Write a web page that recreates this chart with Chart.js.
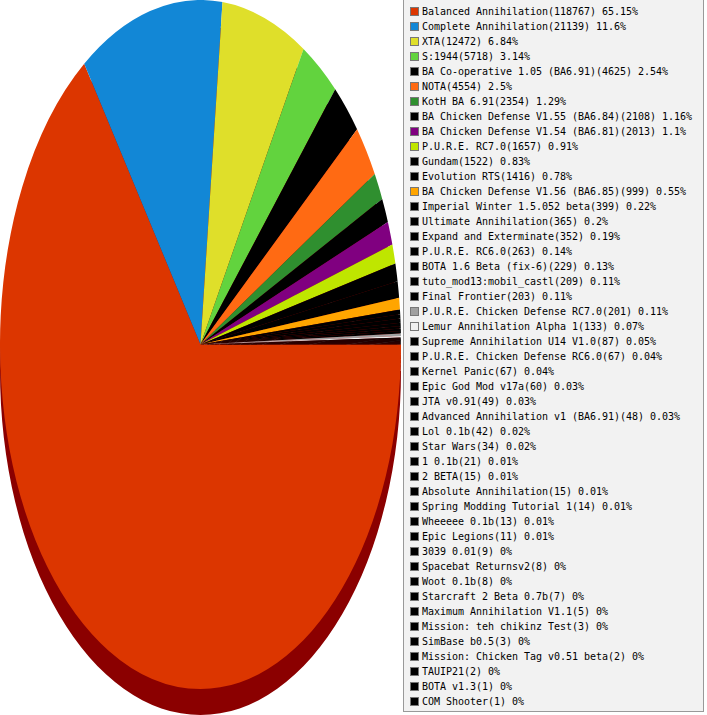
<!DOCTYPE html>
<html>
<head>
<meta charset="utf-8">
<script src="https://cdn.jsdelivr.net/npm/chart.js@4"></script>
<style>
  body { margin: 0; background: #fff; width: 707px; height: 715px; overflow: hidden; position: relative; }
  #pieBox { position: absolute; left: 0; top: 0; width: 401px; height: 715px; }
  #leyenda {
    position: absolute; left: 403px; top: -1px; width: 301px; height: 713px;
    border: 1px solid #999; background: #f2f2f2; box-sizing: border-box;
    font-family: "DejaVu Sans Mono", monospace; font-size: 10px; color: #000;
    padding-top: 4px; white-space: nowrap; overflow: hidden;
  }
  .fila { height: 15px; line-height: 15px; }
  .cuadro {
    display: inline-block; width: 7px; height: 7px; border: 1px solid #777;
    margin-left: 6px; margin-right: 3px; vertical-align: -1px; letter-spacing: 0;
  }
</style>
</head>
<body>
<div id="pieBox"><canvas id="tarta" width="401" height="715"></canvas></div>
<div id="leyenda"></div>
<script>
// datos
var nombres = [
  "Balanced Annihilation", "Complete Annihilation", "XTA", "S:1944",
  "BA Co-operative 1.05 (BA6.91)", "NOTA", "KotH BA 6.91",
  "BA Chicken Defense V1.55 (BA6.84)", "BA Chicken Defense V1.54 (BA6.81)",
  "P.U.R.E. RC7.0", "Gundam", "Evolution RTS", "BA Chicken Defense V1.56 (BA6.85)",
  "Imperial Winter 1.5.052 beta", "Ultimate Annihilation", "Expand and Exterminate",
  "P.U.R.E. RC6.0", "BOTA 1.6 Beta (fix-6)", "tuto_mod13:mobil_castl", "Final Frontier",
  "P.U.R.E. Chicken Defense RC7.0", "Lemur Annihilation Alpha 1",
  "Supreme Annihilation U14 V1.0", "P.U.R.E. Chicken Defense RC6.0", "Kernel Panic",
  "Epic God Mod v17a", "JTA v0.91", "Advanced Annihilation v1 (BA6.91)", "Lol 0.1b",
  "Star Wars", "1 0.1b", "2 BETA", "Absolute Annihilation", "Spring Modding Tutorial 1",
  "Wheeeee 0.1b", "Epic Legions", "3039 0.01", "Spacebat Returnsv2", "Woot 0.1b",
  "Starcraft 2 Beta 0.7b", "Maximum Annihilation V1.1", "Mission: teh chikinz Test",
  "SimBase b0.5", "Mission: Chicken Tag v0.51 beta", "TAUIP21", "BOTA v1.3", "COM Shooter"
];

var partidas = [
  118767, 21139, 12472, 5718, 4625, 4554, 2354, 2108, 2013, 1657, 1522, 1416, 999,
  399, 365, 352, 263, 229, 209, 203, 201, 133, 87, 67, 67, 60, 49, 48, 42, 34,
  21, 15, 15, 14, 13, 11, 9, 8, 8, 7, 5, 3, 3, 2, 2, 1, 1
];

var porcentajes = [
  "65.15", "11.6", "6.84", "3.14", "2.54", "2.5", "1.29", "1.16", "1.1", "0.91",
  "0.83", "0.78", "0.55", "0.22", "0.2", "0.19", "0.14", "0.13", "0.11", "0.11",
  "0.11", "0.07", "0.05", "0.04", "0.04", "0.03", "0.03", "0.03", "0.02", "0.02",
  "0.01", "0.01", "0.01", "0.01", "0.01", "0.01", "0", "0", "0", "0", "0", "0",
  "0", "0", "0", "0", "0"
];

var colores = [
  "#dc3600", "#1287d6", "#dfdf2a", "#62d33e", "#000000", "#ff6a13", "#2f8f2f",
  "#000000", "#800080", "#bfe600", "#000000", "#000000", "#ffa500",
  "#000000", "#000000", "#000000", "#000000", "#000000", "#000000", "#000000",
  "#a0a0a0", "#f0f0f0"
];
while (colores.length < nombres.length) colores.push("#000000");

var sombraColor = "#8b0000";
var profundidad = 26;
var anchoLetra = 6; // px por caracter en la imagen original

// leyenda en html
var ley = document.getElementById('leyenda');

// ajusta el espaciado para que cada letra mida lo mismo que en el original
var medidor = document.createElement('canvas').getContext('2d');
medidor.font = '10px "DejaVu Sans Mono", monospace';
var anchoReal = medidor.measureText('0123456789'.repeat(10)).width / 100;
ley.style.letterSpacing = (anchoLetra - anchoReal).toFixed(3) + 'px';

nombres.forEach(function (n, i) {
  var fila = document.createElement('div');
  fila.className = 'fila';
  var c = document.createElement('span');
  c.className = 'cuadro';
  c.style.background = colores[i];
  fila.appendChild(c);
  fila.appendChild(document.createTextNode(n + '(' + partidas[i] + ') ' + porcentajes[i] + '%'));
  ley.appendChild(fila);
});

// estira la tarta en vertical y le pone la sombra debajo
var ovalado = {
  id: 'ovalado',
  beforeDatasetsDraw: function (chart) {
    var meta = chart.getDatasetMeta(0);
    var ctx = chart.ctx;
    var a0 = meta.data[0];
    var cx = a0.x, cy = a0.y, r = a0.outerRadius;
    var sy = (chart.chartArea.height / 2) / r;

    ctx.save();
    ctx.translate(cx, cy + profundidad);
    ctx.scale(1, sy);
    ctx.translate(-cx, -cy);
    ctx.fillStyle = sombraColor;
    meta.data.forEach(function (arc) {
      ctx.beginPath();
      ctx.moveTo(cx, cy);
      ctx.arc(cx, cy, r, arc.startAngle, arc.endAngle);
      ctx.closePath();
      ctx.fill();
    });
    ctx.restore();

    ctx.save();
    ctx.translate(cx, cy);
    ctx.scale(1, sy);
    ctx.translate(-cx, -cy);
  },
  afterDatasetsDraw: function (chart) {
    chart.ctx.restore();
  }
};

var ctx = document.getElementById('tarta').getContext('2d');
var chart = new Chart(ctx, {
  type: 'pie',
  data: {
    labels: nombres,
    datasets: [{
      data: partidas,
      backgroundColor: colores.slice(0, nombres.length),
      borderWidth: 0,
      hoverOffset: 0,
      offset: 0,
      clip: false
    }]
  },
  options: {
    responsive: false,
    animation: false,
    events: [],
    rotation: 90,
    layout: { padding: { bottom: profundidad } },
    plugins: {
      legend: { display: false },
      tooltip: { enabled: false }
    }
  },
  plugins: [ovalado]
});
</script>
</body>
</html>
